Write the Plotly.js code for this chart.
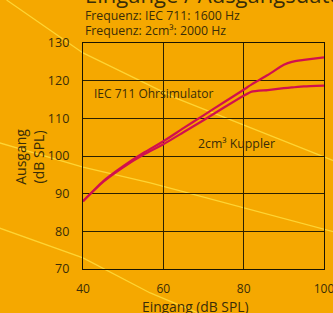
<!DOCTYPE html>
<html>
<head>
<meta charset="utf-8">
<script src="https://cdn.plot.ly/plotly-3.0.1.min.js"></script>
<style>html,body{margin:0;padding:0;background:#F5A800;}#chart{width:333px;height:313px;}</style>
</head>
<body>
<div id="chart"></div>
<script>
const inputLevels = [40, 45, 50, 55, 60, 65, 70, 75, 80, 82, 86, 90, 92, 95, 100];
const iec711Output = [88, 93.3, 97.3, 100.8, 103.9, 107.4, 110.8, 114.2, 117.6, 119, 121.5, 124.2, 125, 125.5, 126.2];
const coupler2ccOutput = [88, 93.1, 97.0, 100.3, 103.1, 106.3, 109.5, 112.8, 116, 117.1, 117.5, 118, 118.2, 118.5, 118.7];
const seriesNames = ["IEC 711 Ohrsimulator", "2cm³ Kuppler"];
const xTicks = [40, 60, 80, 100];
const yTicks = [70, 80, 90, 100, 110, 120, 130];

const FONT = "'Open Sans', 'Noto Sans', sans-serif";
const TXT = "#3a2d08";
const lineColor = "#D1104E";

const traces = [
  {x: inputLevels, y: iec711Output, name: seriesNames[0], mode: "lines",
   line: {color: lineColor, width: 2.2, shape: "spline", smoothing: 0.5}},
  {x: inputLevels, y: coupler2ccOutput, name: seriesNames[1], mode: "lines",
   line: {color: lineColor, width: 2.2, shape: "spline", smoothing: 0.5}}
];

const deco = "rgba(255,220,60,0.85)";
const shapes = [
  {type: "path", xref: "paper", yref: "paper", layer: "below",
   path: "M-0.317,1.19 L-0.1375,1.0575 L0,0.956 L0.383,0.757 L1.0,0.496 L1.092,0.456",
   line: {color: deco, width: 1.3}},
  {type: "path", xref: "paper", yref: "paper", layer: "below",
   path: "M-0.346,0.558 L0,0.451 L0.279,0.381 L1.042,0.164",
   line: {color: deco, width: 1.3}},
  {type: "path", xref: "paper", yref: "paper", layer: "below",
   path: "M-0.346,0.181 L0,0.049 L0.279,-0.106 L0.417,-0.168 L0.55,-0.226",
   line: {color: deco, width: 1.3}}
];

const annotations = [
  {text: "Eingange / Ausgangsdaten", xref: "paper", yref: "paper", x: 0, y: (269 + 6) / 226,
   xanchor: "left", yanchor: "middle", showarrow: false, font: {family: FONT, size: 22, color: TXT}},
  {text: "Frequenz: IEC 711: 1600 Hz", xref: "paper", yref: "paper", x: 0, y: (269 - 15) / 226,
   xanchor: "left", yanchor: "middle", showarrow: false, font: {family: FONT, size: 12.3, color: TXT}},
  {text: "Frequenz: 2cm³: 2000 Hz", xref: "paper", yref: "paper", x: 0, y: (269 - 30) / 226,
   xanchor: "left", yanchor: "middle", showarrow: false, font: {family: FONT, size: 12.3, color: TXT}},
  {text: seriesNames[0], x: 42.3, y: 116.6, xanchor: "left", yanchor: "middle", showarrow: false,
   font: {family: FONT, size: 12, color: TXT}},
  {text: seriesNames[1], x: 78.3, y: 103.3, xanchor: "center", yanchor: "middle", showarrow: false,
   font: {family: FONT, size: 12.3, color: TXT}},
  {text: "Eingang (dB SPL)", xref: "paper", yref: "paper", x: 0.466, y: (269 - 306) / 226,
   xanchor: "center", yanchor: "middle", showarrow: false, font: {family: FONT, size: 13.8, color: TXT}},
  {text: "Ausgang<br>(dB SPL)", xref: "paper", yref: "paper", x: (29 - 83) / 240, y: (269 - 157) / 226,
   xanchor: "center", yanchor: "middle", textangle: -90, showarrow: false,
   font: {family: FONT, size: 14, color: TXT}}
];

const layout = {
  width: 333, height: 313,
  margin: {l: 83, r: 9, t: 43, b: 44, pad: 0},
  paper_bgcolor: "#F5A800",
  plot_bgcolor: "rgba(0,0,0,0)",
  showlegend: false,
  font: {family: FONT, color: TXT, size: 12},
  xaxis: {range: [40, 100], tickvals: xTicks, ticktext: xTicks.map(String),
    showgrid: true, gridcolor: "#2a2000", gridwidth: 1, zeroline: false,
    showline: true, linecolor: "#1a1400", linewidth: 1.2, mirror: true, ticks: "",
    ticklabelstandoff: 8, ticklabeloverflow: "allow", tickfont: {family: FONT, size: 12, color: TXT}},
  yaxis: {range: [70, 130], tickvals: yTicks, ticktext: yTicks.map(String),
    showgrid: true, gridcolor: "#2a2000", gridwidth: 1, zeroline: false,
    showline: true, linecolor: "#1a1400", linewidth: 1.2, mirror: true, ticks: "",
    ticklabelstandoff: 10, tickfont: {family: FONT, size: 12.5, color: TXT}},
  shapes: shapes,
  annotations: annotations
};

Plotly.newPlot("chart", traces, layout, {staticPlot: true, displayModeBar: false});
</script>
</body>
</html>
